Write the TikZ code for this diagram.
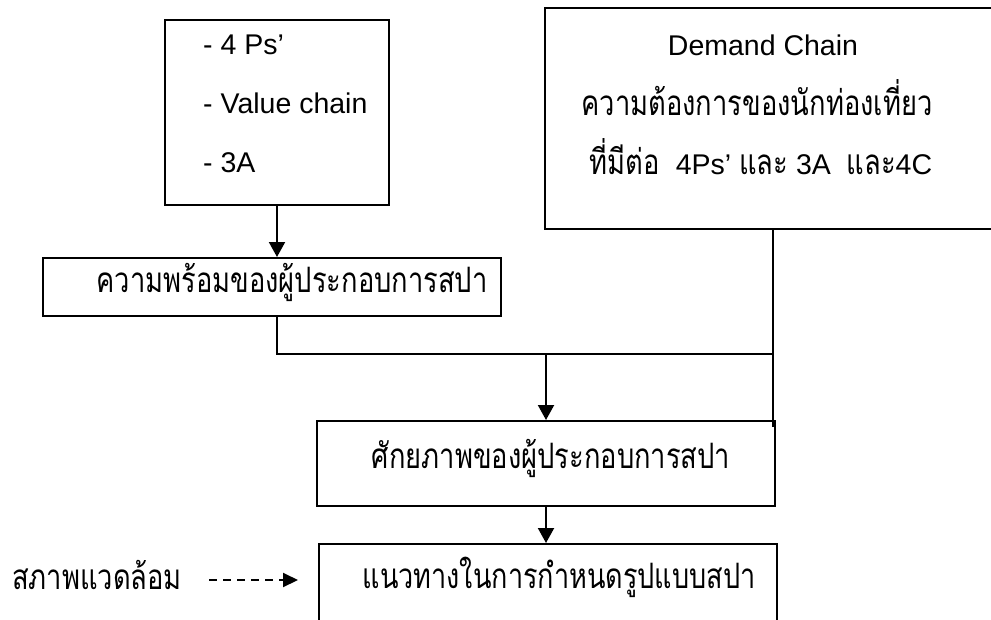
\documentclass[tikz,border=0pt]{standalone}
\usepackage{fontspec}
\setmainfont{Liberation Sans}
\newfontfamily\thaifont[Script=Thai,FakeStretch=0.78]{Loma}
\usetikzlibrary{arrows.meta}
\begin{document}
\begin{tikzpicture}[x=1pt,y=-1pt,
  box/.style={draw=black,line width=2pt,inner sep=0pt},
  lat/.style={font=\fontsize{28.5}{28.5}\selectfont,inner sep=0pt,anchor=base},
  thai/.style={font=\fontsize{35}{35}\selectfont\thaifont,inner sep=0pt,anchor=base},
  conn/.style={line width=2pt},
  arr/.style={conn,-{Triangle[length=15pt,width=16pt]}},
  darr/.style={conn,dash pattern=on 8pt off 6pt,-{Triangle[length=15pt,width=14pt]}}]
\clip (0,0) rectangle (991,619);
\fill[white] (0,0) rectangle (991,619);
% boxes
\node[box,minimum width=224pt,minimum height=185pt] (A) at (277,112.5) {};
\node[box,minimum width=455pt,minimum height=221pt] (B) at (772.5,118.5) {};
\node[box,minimum width=458pt,minimum height=58pt] (C) at (272,287) {};
\node[box,minimum width=458pt,minimum height=85pt] (D) at (546,463.5) {};
\node[box,minimum width=458pt,minimum height=116pt] (E) at (548,602) {};
% texts
\node[lat,anchor=base west] (a1) at (203,54) {- 4 Ps’};
\node[lat,anchor=base west] (a2) at (203,113) {- Value chain};
\node[lat,anchor=base west] (a3) at (203,172) {- 3A};
\node[lat] (b1) at (763,55) {Demand Chain};
\node[thai] (b2) at (757,115) {ความต้องการของนักท่องเที่ยว};
\node[lat] (b3) at (761,174) {{\thaifont\fontsize{35}{35}\selectfont ที่มีต่อ}\ \ 4Ps’ {\thaifont\fontsize{35}{35}\selectfont และ} 3A\ \ {\thaifont\fontsize{35}{35}\selectfont และ}4C};
\node[thai] (ct) at (292,292) {ความพร้อมของผู้ประกอบการสปา};
\node[thai] (dt) at (551,468) {ศักยภาพของผู้ประกอบการสปา};
\node[thai] (et) at (559,588) {\scalebox{0.99}[1]{แนวทางในการกำหนดรูปแบบสปา}};
\node[thai] (env) at (97,589) {สภาพแวดล้อม};
% connectors
\coordinate (jl) at (277,354);
\coordinate (bend) at (772.5,427);
\coordinate (ds) at (209,580);
\coordinate (de) at (298,580);
\draw[arr] (A.south) -- (A.south |- C.north);
\draw[conn] (A.south |- C.south) -- (jl) -- (jl -| B.south);
\draw[conn] (B.south) -- (bend);
\draw[arr] (D.north |- jl) -- (D.north);
\draw[arr] (D.south) -- (D.south |- E.north);
\draw[darr] (ds) -- (de);
\end{tikzpicture}
\end{document}
